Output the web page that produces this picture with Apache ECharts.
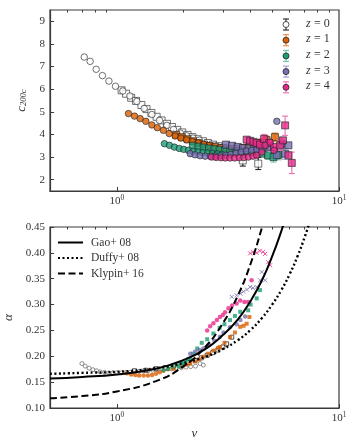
<!DOCTYPE html>
<html>
<head>
<meta charset="utf-8">
<script src="https://cdn.jsdelivr.net/npm/echarts@6/dist/echarts.min.js"></script>
<style>
  html, body { margin: 0; padding: 0; background: #fff; }
  #chart { width: 357px; height: 448px; }
</style>
</head>
<body>
<div id="chart"></div>
<script>
// tick values
const nuTicks = [1, 10];
const nuMinor = [0.6, 0.7, 0.8, 0.9, 2, 3, 4, 5, 6, 7, 8, 9];
const cTicks = [2, 3, 4, 5, 6, 7, 8, 9];
const alphaTicks = [0.10, 0.15, 0.20, 0.25, 0.30, 0.35, 0.40, 0.45];

const zNames = ['0', '1', '2', '3', '4'];
const zColors = ['#ffffff', '#d95f02', '#1b9e77', '#7570b3', '#e7298a'];
const zBarColors = ['#222222', '#e8883f', '#6cc4a8', '#a09ccd', '#ef6fb0'];

// top panel: concentration c200c vs nu (circles = small box, squares = large box)
const c0Circ = [[0.713,7.42],[0.758,7.23],[0.807,6.88],[0.861,6.60],[0.921,6.36],[0.986,6.13],[1.064,5.92],[1.144,5.70],[1.23,5.46],[1.327,5.15],[1.437,4.88],[1.555,4.62],[1.68,4.40],[1.80,4.22],[1.93,4.06],[2.06,3.94],[2.2,3.84],[2.35,3.75]];
const c0Sq = [[1.05,5.95],[1.10,5.80],[1.16,5.62],[1.22,5.48],[1.29,5.30],[1.36,5.12],[1.43,4.95],[1.51,4.78],[1.59,4.62],[1.68,4.47],[1.77,4.33],[1.87,4.20],[1.97,4.09],[2.08,3.98],[2.19,3.88],[2.31,3.79],[2.44,3.70],[2.57,3.62],[2.71,3.55],[2.86,3.48],[3.02,3.40],[3.18,3.33],[3.36,3.25],[3.69,2.85],[4.33,2.71]];
const c0Err = [[3.69,2.60,3.10],[4.33,2.45,2.98]];

const c1Circ = [[1.128,4.92],[1.20,4.81],[1.273,4.70],[1.35,4.58],[1.437,4.42],[1.52,4.30],[1.62,4.18],[1.72,4.04],[1.83,3.93],[1.94,3.84],[2.06,3.76],[2.19,3.68],[2.32,3.62],[2.46,3.56],[2.6,3.51]];
const c1Sq = [[1.85,3.98],[1.96,3.88],[2.08,3.79],[2.2,3.70],[2.33,3.62],[2.47,3.55],[2.62,3.49],[2.78,3.44],[2.95,3.40],[3.13,3.37],[3.32,3.36],[3.52,3.37],[3.73,3.40],[3.95,3.45],[4.19,3.52],[4.45,3.62],[4.72,3.75],[5.15,3.88]];
const c1Err = [[4.45,3.45,3.80],[4.72,3.58,3.93],[5.15,3.70,4.06]];

const c2Circ = [[1.637,3.59],[1.725,3.52],[1.815,3.44],[1.91,3.38],[2.0,3.34],[2.1,3.30],[2.21,3.26],[2.32,3.23],[2.44,3.20],[2.56,3.18],[2.69,3.16],[2.83,3.14],[2.97,3.12]];
const c2Sq = [[2.2,3.50],[2.33,3.46],[2.46,3.42],[2.6,3.38],[2.75,3.35],[2.9,3.32],[3.07,3.30],[3.24,3.28],[3.43,3.26],[3.62,3.25],[3.83,3.24],[4.05,3.22],[4.28,3.20],[4.53,3.15],[4.79,3.08],[5.07,3.00],[5.35,3.10]];
const c2Err = [[4.79,2.90,3.26],[5.07,2.78,3.22],[5.35,2.88,3.32]];

const c3Circ = [[2.14,3.15],[2.25,3.10],[2.37,3.06],[2.5,3.04],[2.64,3.03],[2.78,3.04],[2.93,3.06],[3.09,3.08],[3.26,3.12],[3.44,3.17],[3.63,3.22],[3.83,3.27],[4.04,3.30],[4.27,3.33],[4.5,3.36],[5.25,4.58]];
const c3Sq = [[3.1,3.55],[3.3,3.50],[3.5,3.45],[3.7,3.40],[3.92,3.38],[4.15,3.38],[4.4,3.42],[4.65,3.50],[4.9,3.45],[5.24,3.08],[5.52,3.59],[5.72,3.15],[5.92,3.52]];
const c3Err = [[4.4,3.25,3.62],[4.9,3.25,3.70],[5.52,3.35,3.85],[5.72,2.90,3.40]];

const c4Circ = [[2.67,3.00],[2.8,2.98],[2.94,2.97],[3.08,2.96],[3.23,2.96],[3.39,2.96],[3.56,2.97],[3.73,2.98],[3.91,3.00],[4.1,3.04],[4.26,3.08],[4.49,3.22],[4.65,3.52],[4.9,3.66],[5.1,3.30]];
const c4Sq = [[3.84,3.77],[3.98,3.72],[4.12,3.67],[4.26,3.62],[4.41,3.55],[4.6,3.80],[4.85,3.62],[5.1,3.45],[5.43,3.52],[5.6,3.74],[5.72,4.40],[5.92,3.08],[6.13,2.74]];
const c4Err = [[4.6,3.60,4.00],[5.43,3.30,3.74],[5.72,3.96,4.81],[6.13,2.27,3.22]];

// bottom panel: Einasto alpha vs nu
const a0Circ = [[0.696,0.186],[0.72,0.181],[0.75,0.177],[0.78,0.174],[0.81,0.172],[0.841,0.170],[0.88,0.169],[0.92,0.168],[0.96,0.168],[1.0,0.168],[1.05,0.168],[1.1,0.169],[1.15,0.169],[1.2,0.170],[1.26,0.171],[1.32,0.172],[1.38,0.172],[1.45,0.173],[1.52,0.174],[1.6,0.175],[1.68,0.176],[1.76,0.176],[1.85,0.177],[1.95,0.178],[2.05,0.179],[2.15,0.180],[2.26,0.181],[2.37,0.186],[2.45,0.183]];
const a0Sq = [[1.2,0.172],[1.35,0.173],[1.5,0.176],[1.65,0.178],[1.8,0.181],[1.95,0.184],[2.1,0.188],[2.25,0.192],[2.4,0.197],[2.55,0.202],[2.7,0.207],[2.85,0.212],[3.0,0.218],[3.12,0.224],[3.29,0.237]];
const a1Circ = [[1.11,0.167],[1.16,0.165],[1.21,0.164],[1.26,0.163],[1.32,0.163],[1.38,0.163],[1.44,0.164],[1.5,0.166],[1.56,0.169],[1.62,0.172],[1.7,0.175],[1.78,0.178]];
const a1Sq = [[1.8,0.176],[1.95,0.180],[2.06,0.184],[2.14,0.186],[2.25,0.190],[2.35,0.194],[2.45,0.199],[2.58,0.205],[2.72,0.211],[2.85,0.216],[2.91,0.218],[3.05,0.226],[3.23,0.237],[3.4,0.246],[3.59,0.257],[3.72,0.259],[3.84,0.263],[3.95,0.276]];
const a2Circ = [[1.62,0.173],[1.7,0.176],[1.78,0.180],[1.86,0.184],[1.95,0.188],[2.04,0.191],[2.14,0.195]];
const a2Sq = [[1.9,0.180],[2.0,0.186],[2.1,0.195],[2.2,0.205],[2.3,0.215],[2.41,0.226],[2.55,0.233],[2.72,0.244],[2.9,0.255],[3.05,0.262],[3.23,0.270],[3.4,0.278],[3.59,0.286],[3.9,0.289],[4.0,0.300],[4.26,0.312],[4.41,0.328]];
const a3Circ = [[2.14,0.205],[2.25,0.209],[2.35,0.212],[2.45,0.215],[2.6,0.222],[2.75,0.230],[2.91,0.238],[3.02,0.246],[3.23,0.256],[3.46,0.262],[3.6,0.270],[3.78,0.277]];
const a3Cross = [[3.29,0.315],[3.46,0.318],[3.6,0.321],[3.71,0.325],[3.85,0.329],[3.98,0.334],[4.1,0.332],[4.26,0.334],[4.41,0.347],[4.49,0.363],[4.65,0.347]];
const a4Circ = [[2.55,0.250],[2.63,0.258],[2.72,0.264],[2.82,0.270],[2.91,0.276],[3.0,0.280],[3.07,0.285],[3.18,0.293],[3.3,0.298],[3.46,0.302],[3.59,0.308],[3.75,0.305],[3.9,0.305],[4.04,0.347]];
const a4Cross = [[3.98,0.399],[4.1,0.402],[4.26,0.400],[4.4,0.404],[4.56,0.402],[4.65,0.398],[4.8,0.382],[4.9,0.376]];

// model curves
const gao08 = [[0.5,0.157],[0.7,0.160],[1,0.165],[1.5,0.176],[2,0.193],[2.5,0.214],[3,0.241],[3.5,0.271],[4,0.307],[4.5,0.347],[5,0.393],[5.5,0.442],[5.7,0.464]];
const duffy08 = [[0.5,0.166],[0.7,0.168],[1,0.170],[1.5,0.177],[2,0.187],[2.5,0.199],[3,0.214],[3.5,0.231],[4,0.251],[4.5,0.274],[5,0.300],[5.5,0.328],[6,0.359],[6.5,0.393],[7,0.430],[7.5,0.469]];
const klypin16 = [[0.5,0.119],[0.7,0.123],[1,0.132],[1.5,0.152],[2,0.181],[2.5,0.218],[3,0.264],[3.5,0.317],[4,0.379],[4.5,0.449],[4.7,0.480]];

const cCirc = [c0Circ, c1Circ, c2Circ, c3Circ, c4Circ];
const cSq = [c0Sq, c1Sq, c2Sq, c3Sq, c4Sq];
const cErr = [c0Err, c1Err, c2Err, c3Err, c4Err];
const aCirc = [a0Circ, a1Circ, a2Circ, a3Circ, a4Circ];
const aSq = [a0Sq, a1Sq, a2Sq, [], []];
const aCross = [[], [], [], a3Cross, a4Cross];

const serif = 'Liberation Serif';
const axisCol = '#3a3a3a';

function logLabel(v) {
  const p = Math.round(Math.log10(v));
  if (Math.abs(Math.log10(v) - p) > 1e-6) return '';
  return '{b|10}{s|' + p + '}';
}

function xAxes(grid, showName) {
  const main = {
    type: 'log', logBase: 10, gridIndex: grid, min: 0.5, max: 10,
    axisLine: { lineStyle: { color: axisCol, width: 1.2 } },
    axisTick: { inside: true, length: 4, customValues: nuTicks, lineStyle: { color: axisCol } },
    axisLabel: {
      customValues: nuTicks, formatter: logLabel, margin: 3,
      rich: {
        b: { fontFamily: serif, fontSize: 11, color: '#333' },
        s: { fontFamily: serif, fontSize: 7.5, color: '#333', padding: [0, 0, 7, 0] }
      }
    },
    splitLine: { show: false }
  };
  if (showName) {
    main.name = 'ν';
    main.nameLocation = 'middle';
    main.nameGap = 19;
    main.nameTextStyle = { fontFamily: serif, fontStyle: 'italic', fontSize: 13, color: '#333' };
  }
  const minor = {
    type: 'log', logBase: 10, gridIndex: grid, min: 0.5, max: 10,
    axisLine: { show: false },
    axisTick: { inside: true, length: 2.5, customValues: nuMinor, lineStyle: { color: axisCol } },
    axisLabel: { show: false },
    splitLine: { show: false }
  };
  return [main, minor];
}

const series = [];
for (let i = 0; i < 5; i++) {
  series.push({
    type: 'custom', xAxisIndex: 0, yAxisIndex: 0, data: cErr[i], z: 2 + i,
    encode: { x: 0, y: [1, 2] },
    renderItem: (function (col) {
      return function (params, api) {
        const x = api.value(0);
        const p1 = api.coord([x, api.value(1)]);
        const p2 = api.coord([x, api.value(2)]);
        const w = 3;
        const st = { stroke: col, lineWidth: 1.1 };
        return {
          type: 'group', children: [
            { type: 'line', shape: { x1: p1[0], y1: p1[1], x2: p2[0], y2: p2[1] }, style: st },
            { type: 'line', shape: { x1: p1[0] - w, y1: p1[1], x2: p1[0] + w, y2: p1[1] }, style: st },
            { type: 'line', shape: { x1: p2[0] - w, y1: p2[1], x2: p2[0] + w, y2: p2[1] }, style: st }
          ]
        };
      };
    })(zBarColors[i])
  });
  series.push({
    type: 'scatter', xAxisIndex: 0, yAxisIndex: 0, data: cSq[i], z: 2 + i,
    symbol: 'rect', symbolSize: 7,
    itemStyle: { color: zColors[i], borderColor: '#222', borderWidth: 0.8 }
  });
  series.push({
    type: 'scatter', xAxisIndex: 0, yAxisIndex: 0, data: cCirc[i], z: 2 + i,
    symbol: 'circle', symbolSize: 6.5,
    itemStyle: { color: zColors[i], borderColor: '#222', borderWidth: 0.8 }
  });
  // bottom
  series.push({
    type: 'scatter', xAxisIndex: 2, yAxisIndex: 1, data: aCirc[i], z: 2 + i,
    symbol: 'circle', symbolSize: i === 0 ? 4 : 4.5,
    itemStyle: i === 0 ? { color: '#fff', borderColor: '#555', borderWidth: 0.8 } : { color: zColors[i] }
  });
  series.push({
    type: 'scatter', xAxisIndex: 2, yAxisIndex: 1, data: aSq[i], z: 2 + i,
    symbol: 'rect', symbolSize: 4,
    itemStyle: i === 0 ? { color: '#fff', borderColor: '#111', borderWidth: 0.9 } : { color: zColors[i] }
  });
  series.push({
    type: 'scatter', xAxisIndex: 2, yAxisIndex: 1, data: aCross[i], z: 2 + i,
    symbol: 'path://M0,0L10,10M10,0L0,10', symbolSize: 4,
    itemStyle: { color: 'none', borderColor: zColors[i], borderWidth: 1 }
  });
}

const lineDefs = [
  ['Gao+ 08', gao08, 'solid', 2],
  ['Duffy+ 08', duffy08, [2, 2.5], 2.4],
  ['Klypin+ 16', klypin16, [7, 3.5], 2]
];
lineDefs.forEach(function (d) {
  series.push({
    name: d[0], type: 'line', xAxisIndex: 2, yAxisIndex: 1, data: d[1],
    smooth: true, showSymbol: false, symbol: 'none', z: 20, clip: true,
    lineStyle: { color: '#000', type: d[2], width: d[3] },
    itemStyle: { color: '#000' }
  });
});

// legend for redshifts (top panel)
const legendEls = [];
zNames.forEach(function (z, i) {
  const cx = 286, cy = 24.5 + i * 15.7;
  const st = { stroke: zBarColors[i], lineWidth: 1.1 };
  legendEls.push({ type: 'line', shape: { x1: cx, y1: cy - 5.5, x2: cx, y2: cy + 5.5 }, style: st });
  legendEls.push({ type: 'line', shape: { x1: cx - 3, y1: cy - 5.5, x2: cx + 3, y2: cy - 5.5 }, style: st });
  legendEls.push({ type: 'line', shape: { x1: cx - 3, y1: cy + 5.5, x2: cx + 3, y2: cy + 5.5 }, style: st });
  legendEls.push({ type: 'circle', shape: { cx: cx, cy: cy, r: 3 }, style: { fill: zColors[i], stroke: '#222', lineWidth: 0.8 } });
  legendEls.push({
    type: 'text', left: 306, top: cy - 7,
    style: {
      text: '{i|z} {n|= ' + z + '}',
      rich: {
        i: { fontFamily: serif, fontStyle: 'italic', fontSize: 12, fill: '#333' },
        n: { fontFamily: serif, fontSize: 12, fill: '#333' }
      }
    }
  });
});

const option = {
  animation: false,
  backgroundColor: '#fff',
  grid: [
    { left: 50, top: 10, width: 289, height: 181, show: true, borderColor: axisCol, borderWidth: 1.2, containLabel: false, outerBoundsMode: 'none' },
    { left: 50, top: 227, width: 289, height: 181, show: true, borderColor: axisCol, borderWidth: 1.2, containLabel: false, outerBoundsMode: 'none' }
  ],
  xAxis: xAxes(0, false).concat(xAxes(1, true)),
  yAxis: [
    {
      type: 'value', gridIndex: 0, min: 1.5, max: 9.5,
      name: '{c|c}{s|200c}', nameLocation: 'middle', nameGap: 18, nameRotate: 90,
      nameTextStyle: {
        rich: {
          c: { fontFamily: serif, fontStyle: 'italic', fontSize: 13, color: '#333' },
          s: { fontFamily: serif, fontStyle: 'italic', fontSize: 8.5, color: '#333', padding: [0, 0, -5, 0] }
        }
      },
      axisLine: { lineStyle: { color: axisCol, width: 1.2 } },
      axisTick: { inside: true, length: 4, customValues: cTicks, lineStyle: { color: axisCol } },
      axisLabel: { customValues: cTicks, fontFamily: serif, fontSize: 11, color: '#333', margin: 5 },
      splitLine: { show: false }
    },
    {
      type: 'value', gridIndex: 1, min: 0.1, max: 0.45,
      name: 'α', nameLocation: 'middle', nameGap: 33, nameRotate: 90,
      nameTextStyle: { fontFamily: serif, fontStyle: 'italic', fontSize: 13, color: '#333' },
      axisLine: { lineStyle: { color: axisCol, width: 1.2 } },
      axisTick: { inside: true, length: 4, customValues: alphaTicks, lineStyle: { color: axisCol } },
      axisLabel: {
        customValues: alphaTicks, fontFamily: serif, fontSize: 11, color: '#333', margin: 5,
        formatter: function (v) { return v.toFixed(2); }
      },
      splitLine: { show: false }
    }
  ],
  legend: {
    data: ['Gao+ 08', 'Duffy+ 08', 'Klypin+ 16'],
    orient: 'vertical', left: 52, top: 231.5,
    itemWidth: 25, itemHeight: 10, itemGap: 3.5,
    itemStyle: { color: 'rgba(0,0,0,0)', borderWidth: 0 },
    textStyle: { fontFamily: serif, fontSize: 11.5, color: '#333', padding: [0, 0, 0, 3] }
  },
  graphic: legendEls,
  series: series
};

const chart = echarts.init(document.getElementById('chart'));
chart.setOption(option);
</script>
</body>
</html>
